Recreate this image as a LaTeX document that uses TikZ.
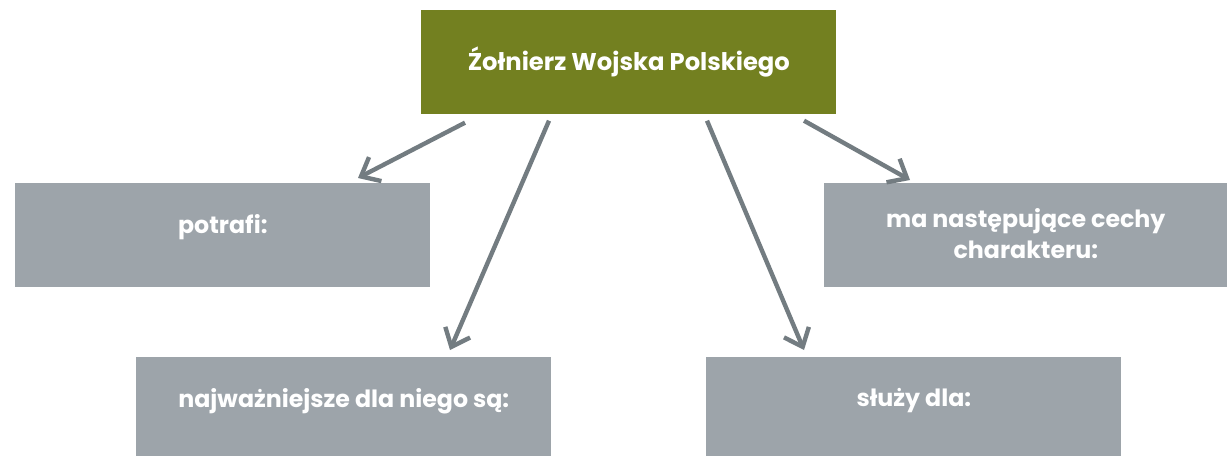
\documentclass[tikz,border=0pt]{standalone}
\usepackage{fontspec}
\setmainfont{Poppins}
\usepackage{xcolor}
\usepackage{tikz}
\usetikzlibrary{arrows.meta, positioning, calc}
\definecolor{headcolor}{RGB}{115,128,32}
\definecolor{boxcolor}{RGB}{157,164,170}
\definecolor{arrowcolor}{RGB}{115,124,129}

\begin{document}
\begin{tikzpicture}[
    x=0.02cm, y=-0.02cm,
    head/.style={fill=headcolor, minimum width=8.3cm, minimum height=2.08cm, inner sep=0pt, anchor=north west, text=white, font=\bfseries\fontsize{13.8}{18}\selectfont},
    topic/.style={fill=boxcolor, minimum width=8.3cm, minimum height=2.08cm, inner sep=0pt, anchor=north west},
    caption/.style={anchor=north, text=white, align=center, font=\bfseries\fontsize{13.5}{18}\selectfont},
    flow/.style={-{Straight Barb[length=3.2mm, width=5.4mm]}, line width=2.5pt, arrowcolor}
]
    \useasboundingbox (0,0) rectangle (1227,456);
    % Boxes
    \node[head] (soldier) at (421,10) {Źołnierz Wojska Polskiego};
    \node[topic] (can) at (15,183) {};
    \node[topic, minimum width=8.06cm] (traits) at (824,183) {};
    \node[topic, minimum height=1.98cm] (values) at (136,357) {};
    \node[topic, minimum height=1.98cm] (serves) at (706,357) {};

    % Texts
    \node[caption] (cantext) at ($(can.north)+(0,25)$) {potrafi:};
    \node[caption] (traitstext) at ($(traits.north)+(0,19)$) {ma następujące cechy\\charakteru:};
    \node[caption] (valuestext) at ($(values.north)+(0,25)$) {najważniejsze dla niego są:};
    \node[caption] (servestext) at ($(serves.north)+(0,25)$) {służy dla:};

    % Flows
    \draw[flow] ($(soldier.south west)+(44,8)$) -- ($(can.north west)+(343,-5)$);
    \draw[flow] ($(soldier.south west)+(128,6)$) -- ($(values.north west)+(314,-7)$);
    \draw[flow] ($(soldier.south west)+(286,6)$) -- ($(serves.north west)+(98,-7)$);
    \draw[flow] ($(soldier.south west)+(383,6)$) -- ($(traits.north west)+(86,-3)$);
\end{tikzpicture}
\end{document}
